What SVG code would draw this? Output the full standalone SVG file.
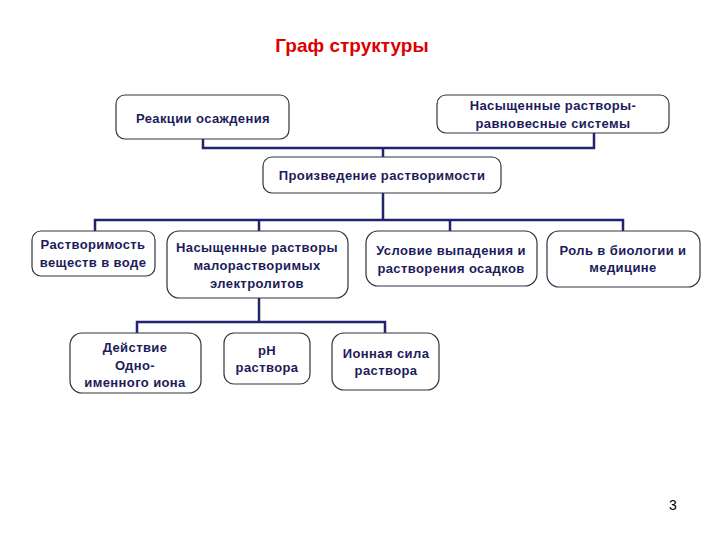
<svg xmlns="http://www.w3.org/2000/svg" width="720" height="540" viewBox="0 0 720 540">
<style>
.bx{fill:#fff;stroke:#333344;stroke-width:1.2}
.t{font-family:"Liberation Sans",Arial,sans-serif;font-size:13px;font-weight:bold;fill:#1c1c5a;text-anchor:middle;letter-spacing:0.4px}
.c{fill:none;stroke:#23236e;stroke-width:2.5}
</style>
<rect width="720" height="540" fill="#fff"/>
<text x="352" y="52" style="font-family:'Liberation Sans',Arial,sans-serif;font-size:19px;font-weight:bold;fill:#dd0000;text-anchor:middle">Граф структуры</text>
<g id="connectors">
<polyline class="c" points="203,139 203,148 594,148 594,133"/>
<line class="c" x1="383" y1="148" x2="383" y2="157"/>
<line class="c" x1="383" y1="193" x2="383" y2="220"/>
<polyline class="c" points="95,231 95,220 623,220 623,231"/>
<line class="c" x1="259" y1="220" x2="259" y2="231"/>
<line class="c" x1="450" y1="220" x2="450" y2="231"/>
<line class="c" x1="259" y1="298" x2="259" y2="322"/>
<polyline class="c" points="137,333 137,322 385,322 385,333"/>
</g>
<g id="n1"><rect class="bx" x="116" y="95" width="173" height="44" rx="9"/><text class="t" x="203" y="123">Реакции осаждения</text></g>
<g id="n2"><rect class="bx" x="437" y="95" width="232" height="38" rx="9"/><text class="t" x="553" y="110">Насыщенные растворы-</text><text class="t" x="553" y="128">равновесные системы</text></g>
<g id="n3"><rect class="bx" x="263" y="157" width="238" height="36" rx="9"/><text class="t" x="382" y="180">Произведение растворимости</text></g>
<g id="n4"><rect class="bx" x="32" y="231" width="123" height="45" rx="9"/><text class="t" x="93" y="249">Растворимость</text><text class="t" x="93" y="267">веществ в воде</text></g>
<g id="n5"><rect class="bx" x="167" y="231" width="181" height="67" rx="12"/><text class="t" x="257" y="252">Насыщенные растворы</text><text class="t" x="257" y="270">малорастворимых</text><text class="t" x="257" y="288">электролитов</text></g>
<g id="n6"><rect class="bx" x="366" y="231" width="171" height="55" rx="12"/><text class="t" x="451" y="255">Условие выпадения и</text><text class="t" x="451" y="273">растворения осадков</text></g>
<g id="n7"><rect class="bx" x="547" y="231" width="153" height="56" rx="12"/><text class="t" x="623" y="255">Роль в биологии и</text><text class="t" x="623" y="272">медицине</text></g>
<g id="n8"><rect class="bx" x="70" y="333" width="131" height="60" rx="12"/><text class="t" x="135" y="352">Действие</text><text class="t" x="135" y="370">Одно-</text><text class="t" x="135" y="387">именного иона</text></g>
<g id="n9"><rect class="bx" x="224" y="333" width="86" height="51" rx="10"/><text class="t" x="267" y="355">pH</text><text class="t" x="267" y="372">раствора</text></g>
<g id="n10"><rect class="bx" x="332" y="333" width="107" height="57" rx="12"/><text class="t" x="386" y="358">Ионная сила</text><text class="t" x="386" y="375">раствора</text></g>
<text x="673" y="510" style="font-family:'Liberation Sans',Arial,sans-serif;font-size:14px;fill:#000;text-anchor:middle">3</text>
</svg>
